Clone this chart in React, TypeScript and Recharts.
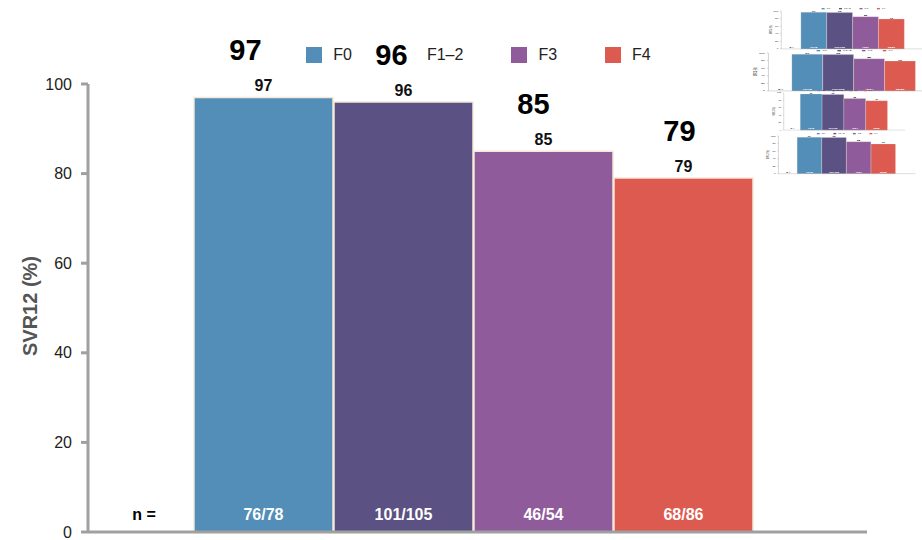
import React from "react"
import { BarChart, Bar, XAxis, YAxis, Legend, LabelList, Label } from "recharts"

// SVR12 by fibrosis stage
const stages = ["F0", "F1–2", "F3", "F4"]
const svr12 = [97, 96, 85, 79]
const responders = ["76/78", "101/105", "46/54", "68/86"]
const stageColors = ["#528eb7", "#5b5283", "#8f5b9a", "#dc5a4f"]
const yTicks = [0, 20, 40, 60, 80, 100]
const nPrefix = "n ="

const keys = ["f0", "f12", "f3", "f4"]
// horizontal nudge of each headline value relative to its bar centre
const headlineShift = [-18, -12, -10, -4]

const row: Record<string, number | string> = { group: "" }
keys.forEach((k, i) => {
  row[k] = svr12[i]
  row[k + "N"] = responders[i]
})
const data = [row]

const FONT = "'Liberation Sans', Arial, sans-serif"

// large headline value drawn above each bar, on a white plate
const makeBigValue = (shift: number) => (props: any) => {
  const { x, y, width, value } = props
  const cx = Number(x) + Number(width) / 2 + shift
  const base = Number(y) - 37
  return (
    <g>
      <rect x={cx - 26} y={base - 26} width={52} height={31} fill="#fff" />
      <text x={cx} y={base} textAnchor="middle" fontSize={29} fontWeight={700} fill="#000" fontFamily={FONT}>
        {value}
      </text>
    </g>
  )
}

const renderLegend = () => (
  <div
    style={{
      display: "flex",
      justifyContent: "center",
      gap: 48,
      fontSize: 16,
      color: "#222",
      fontFamily: FONT,
    }}
  >
    {stages.map((s, i) => (
      <div key={s} style={{ display: "flex", alignItems: "center" }}>
        <span style={{ display: "inline-block", width: 16, height: 16, background: stageColors[i], marginRight: 11 }} />
        <span>{s}</span>
      </div>
    ))}
  </div>
)

function SvrChart({ compact = false }: { compact?: boolean }) {
  return (
    <BarChart
      width={922}
      height={540}
      data={data}
      margin={{ top: 84, right: 55, bottom: 0, left: 0 }}
      barSize={139}
      barGap={1}
      style={{ fontFamily: FONT }}
    >
      <XAxis
        dataKey="group"
        height={8}
        tick={false}
        tickLine={false}
        padding={{ left: 0, right: 9 }}
        axisLine={{ stroke: "#a0a0a0", strokeWidth: 3 }}
      >
        <Label
          content={({ viewBox }: any) => (
            <text
              x={viewBox.x + 56}
              y={viewBox.y - 12}
              textAnchor="middle"
              fontSize={16}
              fontWeight={700}
              fill="#000"
              fontFamily={FONT}
            >
              {nPrefix}
            </text>
          )}
        />
      </XAxis>
      <YAxis
        width={88}
        domain={[0, 100]}
        ticks={yTicks}
        interval={0}
        tickSize={7}
        tickMargin={9}
        axisLine={{ stroke: "#a0a0a0", strokeWidth: 3 }}
        tickLine={{ stroke: "#a0a0a0", strokeWidth: 3 }}
        tick={{ fontSize: 16, fill: "#222", fontFamily: FONT }}
      >
        <Label
          content={({ viewBox }: any) => {
            const lx = viewBox.x + 30
            const ly = viewBox.y + viewBox.height / 2 - 2
            return (
              <text
                x={lx}
                y={ly}
                transform={`rotate(-90, ${lx}, ${ly})`}
                textAnchor="middle"
                dominantBaseline="central"
                fontSize={20}
                fontWeight={700}
                fill="#555"
                fontFamily={FONT}
              >
                SVR12 (%)
              </text>
            )
          }}
        />
      </YAxis>
      <Legend
        verticalAlign="middle"
        align="center"
        content={renderLegend}
        wrapperStyle={{ top: 46, left: 88, width: 781, zIndex: -1 }}
      />
      {keys.map((k, i) => (
        <Bar
          key={k}
          dataKey={k}
          name={stages[i]}
          fill={stageColors[i]}
          stroke="#f3e8da"
          strokeWidth={1.5}
          isAnimationActive={false}
        >
          <LabelList
            dataKey={k}
            position="top"
            offset={6}
            style={{ fontSize: 16, fontWeight: 700, fill: "#111", fontFamily: FONT }}
          />
          <LabelList
            dataKey={k + "N"}
            position="insideBottom"
            offset={12}
            style={{ fontSize: 16, fontWeight: 700, fill: "#fff", fontFamily: FONT }}
          />
          {!compact && <LabelList dataKey={k} content={makeBigValue(headlineShift[i])} />}
        </Bar>
      ))}
    </BarChart>
  )
}

// small copies stacked in the top-right corner
const thumbs = [
  { left: 764.9, top: 4.0, sx: 0.185, sy: 0.0845 },
  { left: 748.9, top: 45.7, sx: 0.221, sy: 0.0845 },
  { left: 769.6, top: 86.1, sx: 0.156, sy: 0.083 },
  { left: 762.7, top: 128.5, sx: 0.176, sy: 0.0842 },
]

export default function App() {
  return (
    <div style={{ position: "absolute", left: 0, top: 0, width: 922, height: 540, background: "#fff", zIndex: 0, overflow: "hidden" }}>
      <SvrChart />
      {thumbs.map((t, i) => (
        <div
          key={i}
          style={{
            position: "absolute",
            left: t.left,
            top: t.top,
            width: 922,
            height: 540,
            transform: `scale(${t.sx}, ${t.sy})`,
            transformOrigin: "0 0",
          }}
        >
          <SvrChart compact />
        </div>
      ))}
    </div>
  )
}
